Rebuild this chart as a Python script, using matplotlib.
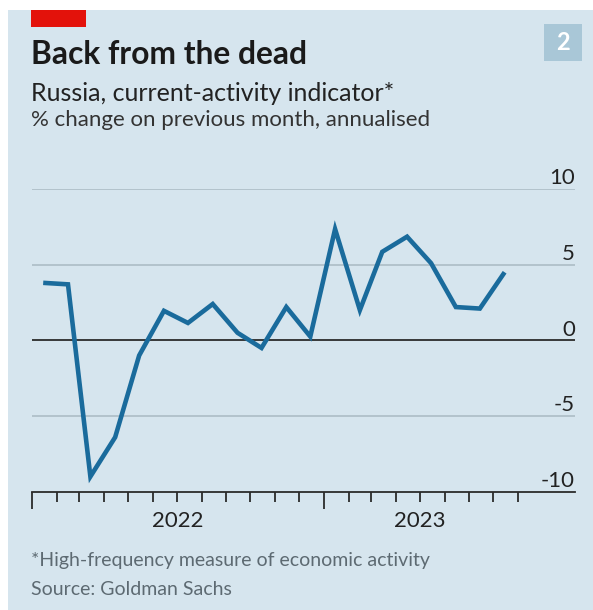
import matplotlib
matplotlib.use("Agg")
import matplotlib.pyplot as plt
import pandas as pd

plt.rcParams["font.family"] = ["Lato", "DejaVu Sans"]

# monthly readings, Jan 2022 - Aug 2023
months = pd.date_range("2022-01-01", periods=20, freq="MS") + pd.Timedelta(days=14)
activity = [3.8, 3.7, -9.0, -6.4, -1.0, 1.95, 1.15, 2.4, 0.5, -0.5,
            2.2, 0.25, 7.35, 2.0, 5.85, 6.85, 5.1, 2.2, 2.1, 4.5]
y_ticks = [-10, -5, 0, 5, 10]
year_labels = ["2022", "2023"]
year_centres = [pd.Timestamp("2022-07-02"), pd.Timestamp("2023-05-01")]

W, H = 593, 610
BG = "#d6e5ee"
BLUE = "#1a6b9c"


def fx(px):
    return px / W


def fy(px):
    return 1 - px / H


fig = plt.figure(figsize=(W / 100, H / 100), dpi=100, facecolor="white")
fig.patches.append(plt.Rectangle((fx(8), 0), 1 - fx(8), fy(10), transform=fig.transFigure,
                                 facecolor=BG, edgecolor="none", zorder=-10))
# red tag and chart number box
fig.patches.append(plt.Rectangle((fx(31), fy(27)), fx(55), 17 / H, transform=fig.transFigure,
                                 facecolor="#e3120b", edgecolor="none", zorder=-5))
fig.patches.append(plt.Rectangle((fx(544), fy(61)), fx(38), 37 / H, transform=fig.transFigure,
                                 facecolor="#a9c7d7", edgecolor="none", zorder=-5))
fig.text(fx(563), fy(43), "2", color="white", fontsize=17, fontweight="bold",
         ha="center", va="center")

fig.text(fx(31), fy(64), "Back from the dead", fontsize=22.9, fontweight="bold",
         color="#1a1a1a", va="baseline")
fig.text(fx(31), fy(101), "Russia, current-activity indicator*", fontsize=18,
         color="#222222", va="baseline")
fig.text(fx(31), fy(126.5), "% change on previous month, annualised", fontsize=16,
         color="#333333", va="baseline")
fig.text(fx(31), fy(566), "*High-frequency measure of economic activity", fontsize=14,
         color="#5d6a72", va="baseline")
fig.text(fx(31), fy(595), "Source: Goldman Sachs", fontsize=14,
         color="#5d6a72", va="baseline")

ax = fig.add_axes([fx(32), fy(491.7), fx(575 - 32), (491.7 - 189) / H])
ax.set_facecolor("none")
ax.set_xlim(pd.Timestamp("2022-01-01"), pd.Timestamp("2023-11-11"))
ax.set_ylim(-10, 10)

for v in y_ticks:
    if v == 0:
        ax.axhline(v, color="#2b2b2b", lw=1.3, zorder=2)
    elif v != -10:
        ax.axhline(v, color="#b3c3cc", lw=1.4, zorder=1)
    ax.text(1.0, v + 0.3, str(v), transform=ax.get_yaxis_transform(), ha="right",
            va="baseline", fontsize=16, color="#222222")

ax.plot(months, activity, color=BLUE, lw=3.3, solid_joinstyle="miter",
        solid_capstyle="butt", zorder=3, clip_on=False)

for s in ["top", "right", "left"]:
    ax.spines[s].set_visible(False)
ax.spines["bottom"].set_color("#2b2b2b")
ax.spines["bottom"].set_linewidth(1.3)
ax.set_yticks([])

ax.set_xticks(pd.date_range("2022-01-01", "2023-01-01", freq="YS"))
ax.set_xticks(pd.date_range("2022-01-01", "2023-09-01", freq="MS"), minor=True)
ax.tick_params(axis="x", which="major", length=12, width=1.3, color="#2b2b2b",
               labelbottom=False)
ax.tick_params(axis="x", which="minor", length=7.5, width=1.3, color="#2b2b2b")

for lab, c in zip(year_labels, year_centres):
    ax.text(c, -12.3, lab, ha="center", va="baseline", fontsize=16, color="#222222")

fig.savefig("out.png", dpi=100, facecolor="white")
